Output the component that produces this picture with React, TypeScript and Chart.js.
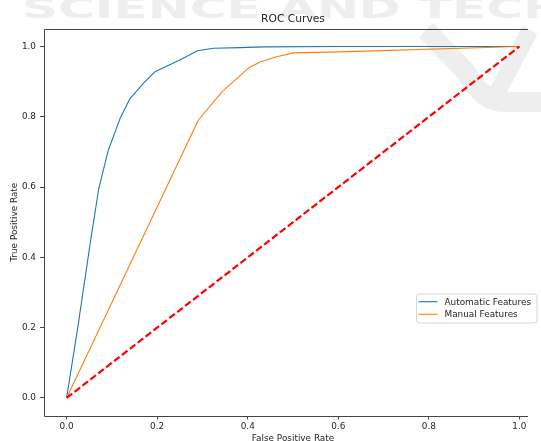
import React, { useEffect, useRef } from "react";
import { Chart, registerables } from "chart.js";

Chart.register(...registerables);

// ---- data ----
const autoFpr = [0, 0.026, 0.052, 0.071, 0.092, 0.118, 0.14, 0.173, 0.195, 0.25, 0.289, 0.324, 0.383, 0.435, 0.604, 1.0];
const autoTpr = [0, 0.212, 0.44, 0.596, 0.705, 0.795, 0.852, 0.9, 0.928, 0.962, 0.988, 0.995, 0.997, 0.999, 1.0, 1.0];
const manualFpr = [0, 0.291, 0.343, 0.401, 0.427, 0.464, 0.501, 0.604, 1.0];
const manualTpr = [0, 0.791, 0.871, 0.938, 0.956, 0.971, 0.982, 0.985, 1.0];
const chanceFpr = [0, 1];
const chanceTpr = [0, 1];
const xTicks = [0, 0.2, 0.4, 0.6, 0.8, 1.0];
const yTicks = [0, 0.2, 0.4, 0.6, 0.8, 1.0];
const seriesLabels = ["Automatic Features", "Manual Features"];
const chartTitle = "ROC Curves";
const xLabel = "False Positive Rate";
const yLabel = "True Positive Rate";
const watermarkText = "SCIENCE AND TECH";

const FONT = "'DejaVu Sans', sans-serif";
const TEXT = "#262626";
const AXIS = "#444444";

// the figure is wider than the 541px picture: its right edge is cut off
const CANVAS_W = 560;
const VIEW_W = 541;
const VIEW_H = 441;

const toPoints = (xs: number[], ys: number[]) => xs.map((x, i) => ({ x, y: ys[i] }));

const watermarkPlugin = {
  id: "watermark",
  beforeDraw(chart: any) {
    const { ctx } = chart;
    ctx.save();
    ctx.fillStyle = "#eeeeee";
    ctx.font = "bold 29px 'DejaVu Sans'";
    const w = ctx.measureText(watermarkText).width;
    ctx.translate(22, 18);
    ctx.scale(543 / w, 1);
    ctx.textBaseline = "alphabetic";
    ctx.fillText(watermarkText, 0, 0);
    ctx.restore();

    ctx.save();
    ctx.strokeStyle = "#eeeeee";
    ctx.lineJoin = "round";
    ctx.lineCap = "butt";
    ctx.lineWidth = 20;
    ctx.beginPath();
    ctx.moveTo(426, 30);
    ctx.lineTo(466, 72);
    ctx.quadraticCurveTo(482, 102, 505, 102);
    ctx.lineTo(560, 102);
    ctx.stroke();
    ctx.lineWidth = 17;
    ctx.beginPath();
    ctx.moveTo(530, 30);
    ctx.lineTo(496, 95);
    ctx.stroke();
    ctx.restore();
  },
};

// axes frame: top, left and bottom spines
const framePlugin = {
  id: "frame",
  afterDatasetsDraw(chart: any) {
    const { ctx, chartArea } = chart;
    const l = Math.round(chartArea.left) + 0.5;
    const t = Math.round(chartArea.top) + 0.5;
    const b = Math.round(chartArea.bottom) + 0.5;
    const r = Math.min(chartArea.right, VIEW_W - 13);
    ctx.save();
    ctx.strokeStyle = AXIS;
    ctx.lineWidth = 1;
    ctx.beginPath();
    ctx.moveTo(r, t);
    ctx.lineTo(l, t);
    ctx.lineTo(l, b);
    ctx.lineTo(r, b);
    ctx.stroke();
    ctx.restore();
  },
};

const legendPlugin = {
  id: "innerLegend",
  afterDraw(chart: any) {
    const { ctx, chartArea } = chart;
    const items = chart.data.datasets.filter((d: any) => seriesLabels.includes(d.label));
    ctx.save();
    ctx.font = `8.9px ${FONT}`;
    const textW = Math.max(...items.map((d: any) => ctx.measureText(d.label).width));
    const rowH = 12.6;
    const boxW = 28 + textW + 6;
    const boxH = 29;
    const right = chartArea.right - 5;
    const left = right - boxW;
    const top = chartArea.top + 265;
    const r = 3;
    ctx.beginPath();
    ctx.moveTo(left + r, top);
    ctx.lineTo(left + boxW - r, top);
    ctx.arcTo(left + boxW, top, left + boxW, top + r, r);
    ctx.lineTo(left + boxW, top + boxH - r);
    ctx.arcTo(left + boxW, top + boxH, left + boxW - r, top + boxH, r);
    ctx.lineTo(left + r, top + boxH);
    ctx.arcTo(left, top + boxH, left, top + boxH - r, r);
    ctx.lineTo(left, top + r);
    ctx.arcTo(left, top, left + r, top, r);
    ctx.closePath();
    ctx.fillStyle = "rgba(255,255,255,0.8)";
    ctx.fill();
    ctx.strokeStyle = "#d6d6d6";
    ctx.lineWidth = 1;
    ctx.stroke();
    items.forEach((d: any, i: number) => {
      const y = top + 7.7 + i * rowH;
      ctx.beginPath();
      ctx.strokeStyle = d.borderColor;
      ctx.lineWidth = d.borderWidth;
      ctx.moveTo(left + 2, y);
      ctx.lineTo(left + 21, y);
      ctx.stroke();
      ctx.fillStyle = TEXT;
      ctx.textBaseline = "middle";
      ctx.textAlign = "left";
      ctx.fillText(d.label, left + 28, y + 0.5);
    });
    ctx.restore();
  },
};

export default function App() {
  const ref = useRef<HTMLCanvasElement | null>(null);

  useEffect(() => {
    document.body.style.margin = "0";
    document.body.style.overflow = "hidden";
    const canvas = ref.current;
    if (!canvas) return;
    const chart = new Chart(canvas, {
      type: "line",
      data: {
        datasets: [
          {
            label: seriesLabels[0],
            data: toPoints(autoFpr, autoTpr),
            borderColor: "#1f77b4",
            backgroundColor: "#1f77b4",
            borderWidth: 1.1,
            pointRadius: 0,
            tension: 0,
            fill: false,
            borderJoinStyle: "round",
            order: 2,
          },
          {
            label: seriesLabels[1],
            data: toPoints(manualFpr, manualTpr),
            borderColor: "#ff7f0e",
            backgroundColor: "#ff7f0e",
            borderWidth: 1.1,
            pointRadius: 0,
            tension: 0,
            fill: false,
            borderJoinStyle: "round",
            order: 1,
          },
          {
            label: "chance",
            data: toPoints(chanceFpr, chanceTpr),
            borderColor: "#ff0000",
            backgroundColor: "#ff0000",
            borderWidth: 2.2,
            borderDash: [7, 3],
            pointRadius: 0,
            tension: 0,
            fill: false,
            order: 0,
          },
        ],
      },
      options: {
        animation: false,
        responsive: false,
        devicePixelRatio: 1,
        layout: { padding: { left: 0, top: 0, bottom: 0, right: CANVAS_W - 542 } },
        plugins: {
          legend: { display: false },
          title: { display: false },
          tooltip: { enabled: false },
        },
        scales: {
          x: {
            type: "linear",
            position: "bottom",
            min: -0.05,
            max: 1.05,
            afterBuildTicks: (scale: any) => {
              scale.ticks = xTicks.map((v) => ({ value: v }));
            },
            afterFit: (scale: any) => {
              scale.height = 25.5;
            },
            ticks: {
              color: TEXT,
              font: { family: FONT, size: 8.9 },
              padding: 2,
              maxRotation: 0,
              autoSkip: false,
              callback: (v: any) => Number(v).toFixed(1),
            },
            grid: {
              display: true,
              drawOnChartArea: false,
              drawTicks: true,
              tickLength: 4,
              tickColor: AXIS,
              lineWidth: 1,
            },
            border: { display: false },
            title: {
              display: true,
              text: xLabel,
              color: TEXT,
              font: { family: FONT, size: 8.9 },
              padding: { top: 0, bottom: -3 },
            },
          },
          x2: {
            type: "linear",
            position: "top",
            min: -0.05,
            max: 1.05,
            afterFit: (scale: any) => {
              scale.height = 29;
            },
            ticks: { display: false },
            grid: { display: false, drawTicks: false },
            border: { display: false },
            title: {
              display: true,
              text: chartTitle,
              color: TEXT,
              font: { family: FONT, size: 10.7 },
              padding: { top: 13.3, bottom: 0 },
            },
          },
          y: {
            type: "linear",
            position: "left",
            min: -0.05,
            max: 1.05,
            afterBuildTicks: (scale: any) => {
              scale.ticks = yTicks.map((v) => ({ value: v }));
            },
            afterFit: (scale: any) => {
              scale.width = 44;
            },
            ticks: {
              color: TEXT,
              font: { family: FONT, size: 8.9 },
              padding: 4,
              autoSkip: false,
              callback: (v: any) => Number(v).toFixed(1),
            },
            grid: {
              display: true,
              drawOnChartArea: false,
              drawTicks: true,
              tickLength: 4,
              tickColor: AXIS,
              lineWidth: 1,
            },
            border: { display: false },
            title: {
              display: true,
              text: yLabel,
              color: TEXT,
              font: { family: FONT, size: 8.9 },
              padding: { top: 9, bottom: 0 },
            },
          },
        },
      } as any,
      plugins: [watermarkPlugin, framePlugin, legendPlugin],
    });
    return () => chart.destroy();
  }, []);

  return (
    <div style={{ width: VIEW_W, height: VIEW_H, position: "relative", overflow: "hidden" }}>
      <canvas
        ref={ref}
        width={CANVAS_W}
        height={VIEW_H}
        style={{ display: "block", width: CANVAS_W, height: VIEW_H }}
      />
    </div>
  );
}
